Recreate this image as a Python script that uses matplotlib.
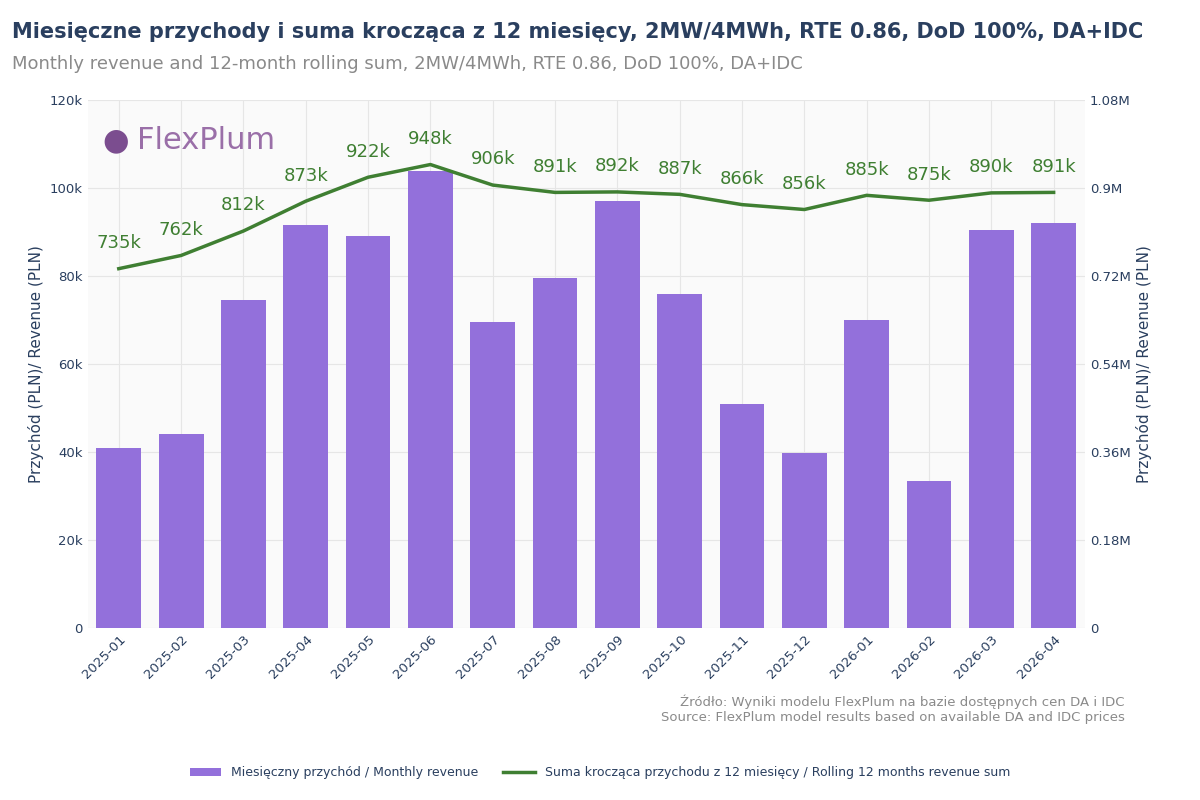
import matplotlib
matplotlib.use("Agg")
import matplotlib.pyplot as plt
from matplotlib.ticker import FuncFormatter

months = ["2025-01","2025-02","2025-03","2025-04","2025-05","2025-06","2025-07","2025-08",
          "2025-09","2025-10","2025-11","2025-12","2026-01","2026-02","2026-03","2026-04"]
monthly = [40800,44200,74600,91600,89000,103800,69500,79500,97000,75900,51000,39700,70000,33500,90500,92000]
rolling = [735000,762000,812000,873000,922000,948000,906000,891000,892000,887000,866000,856000,885000,875000,890000,891000]

fig = plt.figure(figsize=(12,8), dpi=100)
ax = fig.add_axes([0.073, 0.215, 0.831, 0.66])
ax.set_facecolor("#fafafa")
x = list(range(len(months)))
ax.bar(x, monthly, width=0.72, color="#9370db", zorder=2, label="Miesięczny przychód / Monthly revenue")
ax.set_ylim(0,120000)
ax.set_xlim(-0.5, len(months)-0.5)
ax.yaxis.set_major_formatter(FuncFormatter(lambda v,p: "0" if v==0 else f"{int(v/1000)}k"))
ax.set_xticks(x)
ax.set_xticklabels(months, rotation=45, ha="right", rotation_mode="anchor")
ax.grid(True, color="#e6e6e6", zorder=0)
for s in ax.spines.values(): s.set_visible(False)
ax.tick_params(length=0, colors="#2a3f5f", labelsize=9.5)
ax.set_ylabel("Przychód (PLN)/ Revenue (PLN)", color="#2a3f5f", fontsize=11)

ax2 = ax.twinx()
ax2.plot(x, rolling, color="#3f7f32", lw=2.5, label="Suma krocząca przychodu z 12 miesięcy / Rolling 12 months revenue sum")
ax2.set_ylim(0,1080000)
ax2.set_yticks([0,180000,360000,540000,720000,900000,1080000])
ax2.yaxis.set_major_formatter(FuncFormatter(lambda v,p: "0" if v==0 else f"{v/1e6:.2f}".rstrip("0").rstrip(".")+"M"))
for s in ax2.spines.values(): s.set_visible(False)
ax2.tick_params(length=0, colors="#2a3f5f", labelsize=9.5)
ax2.set_ylabel("Przychód (PLN)/ Revenue (PLN)", color="#2a3f5f", fontsize=11)
for xi, r in zip(x, rolling):
    ax2.annotate(f"{round(r/1000)}k", (xi, r), xytext=(0,12), textcoords="offset points",
                 ha="center", va="bottom", color="#3f7f32", fontsize=13)

ax.text(0.05, 0.95, "FlexPlum", transform=ax.transAxes, fontsize=22, color="#9a6fa8", va="top")
ax.text(0.015, 0.95, "●", transform=ax.transAxes, fontsize=22, color="#7b4d8f", va="top")

fig.text(0.01, 0.96, "Miesięczne przychody i suma krocząca z 12 miesięcy, 2MW/4MWh, RTE 0.86, DoD 100%, DA+IDC",
         fontsize=15, fontweight="bold", color="#2a3f5f", va="center")
fig.text(0.01, 0.92, "Monthly revenue and 12-month rolling sum, 2MW/4MWh, RTE 0.86, DoD 100%, DA+IDC",
         fontsize=13, color="#8a8a8a", va="center")
fig.text(0.937, 0.113, "Źródło: Wyniki modelu FlexPlum na bazie dostępnych cen DA i IDC\nSource: FlexPlum model results based on available DA and IDC prices",
         ha="right", va="center", fontsize=9.5, color="#8a8a8a")
h1,l1 = ax.get_legend_handles_labels(); h2,l2 = ax2.get_legend_handles_labels()
fig.legend(h1+h2, l1+l2, loc="center", bbox_to_anchor=(0.5,0.034), ncol=2, frameon=False,
           fontsize=9, labelcolor="#2a3f5f", handlelength=2.5)
fig.savefig("out.png", dpi=100, facecolor="white")
